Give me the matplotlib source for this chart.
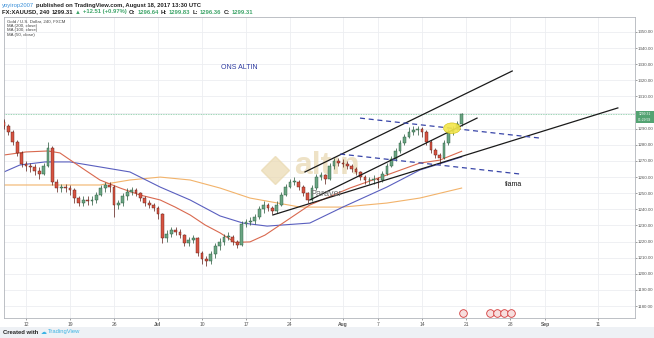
import numpy as np
import matplotlib.pyplot as plt
from matplotlib.patches import Ellipse, Rectangle
import matplotlib.transforms as mtransforms

plt.rcParams["font.family"] = ["Liberation Sans", "DejaVu Sans"]

W, H = 654, 338

# 12h bars, index 0 = Jun 8 (left edge)
first_open = 1294
closes = [1292, 1288, 1282, 1275, 1268, 1267, 1266, 1264, 1262, 1267,
          1278, 1257, 1253, 1254, 1253, 1252, 1247, 1244, 1246, 1245,
          1246, 1249, 1253, 1255, 1254, 1243, 1244, 1248, 1251, 1252,
          1250, 1247, 1244, 1243, 1241, 1237, 1222, 1225, 1227, 1226,
          1224, 1219, 1221, 1222, 1213, 1209, 1208, 1212, 1217, 1220,
          1223, 1223, 1220, 1218, 1231, 1232, 1233, 1235, 1240, 1243,
          1241, 1239, 1243, 1249, 1254, 1257, 1257, 1254, 1250, 1246,
          1253, 1260, 1261, 1259, 1267, 1270, 1269, 1268, 1267, 1265,
          1263, 1260, 1258, 1258, 1259, 1258, 1262, 1267, 1271, 1276,
          1281, 1285, 1288, 1289, 1290, 1288, 1282, 1277, 1274, 1272,
          1281, 1288, 1290, 1293, 1299.31]
highs = [1296, 1293, 1289, 1283, 1276, 1270, 1269, 1268, 1266, 1269,
         1282, 1279, 1259, 1256, 1256, 1255, 1253, 1248, 1248, 1248,
         1248, 1251, 1255, 1257, 1257, 1255, 1246, 1250, 1253, 1254,
         1253, 1251, 1248, 1246, 1244, 1242, 1238, 1227, 1229, 1229,
         1228, 1225, 1223, 1224, 1223, 1214, 1211, 1214, 1219, 1222,
         1225, 1226, 1224, 1221, 1233, 1234, 1235, 1237, 1242, 1245,
         1244, 1242, 1245, 1251, 1256, 1259, 1260, 1258, 1255, 1251,
         1255, 1262, 1263, 1262, 1269, 1272, 1272, 1271, 1270, 1268,
         1266, 1264, 1261, 1260, 1261, 1260, 1264, 1269, 1273, 1278,
         1283, 1287, 1291, 1292, 1292, 1291, 1289, 1283, 1278, 1275,
         1283, 1290, 1292, 1295, 1299.83]
lows = [1290, 1286, 1280, 1273, 1266, 1264, 1263, 1261, 1259, 1261,
        1266, 1255, 1251, 1251, 1251, 1249, 1244, 1242, 1242, 1243,
        1243, 1244, 1248, 1251, 1251, 1235, 1240, 1242, 1246, 1249,
        1248, 1245, 1242, 1241, 1239, 1234, 1219, 1220, 1223, 1224,
        1222, 1217, 1217, 1219, 1211, 1206, 1205, 1206, 1210, 1215,
        1218, 1221, 1218, 1216, 1217, 1229, 1230, 1231, 1234, 1238,
        1239, 1237, 1238, 1242, 1248, 1253, 1255, 1252, 1248, 1244,
        1245, 1252, 1258, 1256, 1258, 1265, 1267, 1266, 1265, 1263,
        1261, 1258, 1256, 1256, 1256, 1253, 1257, 1261, 1266, 1270,
        1275, 1280, 1284, 1286, 1286, 1285, 1280, 1275, 1272, 1268,
        1271, 1280, 1286, 1289, 1292]

# moving averages, read at sample bar positions
ma50_x = [0, 5, 10, 12.7, 15.7, 18.4, 21.8, 26.4, 30.9, 35.5, 38.9, 42.3,
          45.7, 49.1, 52.5, 55.9, 59.3, 63.4, 69.5, 78.6, 87, 94.5, 99, 104]
ma50_y = [1273.7, 1275.6, 1276.2, 1275, 1269.4, 1264.4, 1258.2, 1253.2,
          1248.9, 1245.8, 1241.4, 1236.5, 1230.3, 1225.4, 1219.5, 1219.8,
          1224, 1231.5, 1242.7, 1253.2, 1261.3, 1268.7, 1270.5, 1276]
ma100_x = [0, 3.6, 9.3, 15, 21.8, 28.6, 35.5, 42.3, 49.1, 54.3, 59.8,
           69.5, 77, 87, 94.5, 104]
ma100_y = [1263.2, 1267.5, 1269.4, 1269.4, 1266.3, 1263.2, 1253.8, 1245.8,
           1235.9, 1231.5, 1229.6, 1231.5, 1241.4, 1253.8, 1264.4, 1272.5]
ma200_x = [0, 21.8, 28.6, 35.5, 42.3, 49.1, 55.9, 67.3, 77, 87, 94.5, 104]
ma200_y = [1255.1, 1255.1, 1258.2, 1260, 1258.2, 1253.2, 1247, 1241.4,
           1241.4, 1243.9, 1247, 1253.2]

# drawn trend lines: (x0, y0, x1, y1)
solid_lines = [(68.4, 1263.2, 115.5, 1325.8),
               (69.5, 1245.8, 107.5, 1296.6),
               (61.1, 1236.5, 139.5, 1302.9)]
dashed_lines = [(80.9, 1296.6, 121.8, 1284.2),
                (76.4, 1274.3, 117.3, 1261.9)]

xtick_pos = [5, 15, 25, 35, 45, 55, 65, 77, 85, 95, 105, 115, 123, 135]
xtick_lab = ["12", "19", "26", "Jul", "10", "17", "24", "Aug", "7", "14",
             "21", "28", "Sep", "11"]
ytick_vals = list(range(1180, 1351, 10))
last_price = 1299.31
event_pos = [104.3, 110.5, 112.1, 113.7, 115.3]

UP, DOWN = "#6ba583", "#d75442"
UP_E, DOWN_E = "#225437", "#5b1a13"

fig = plt.figure(figsize=(W / 100, H / 100), dpi=100, facecolor="white")
ax = fig.add_axes([4 / W, 20 / H, 631 / W, 301 / H])
ax.set_xlim(0, 143.4)
ax.set_ylim(1172.6, 1359.3)

# grid
for xp in xtick_pos:
    ax.axvline(xp, color="#eceef1", lw=0.6, zorder=0)
for yv in ytick_vals:
    ax.axhline(yv, color="#eceef1", lw=0.6, zorder=0)

# candles
opens = [first_open] + closes[:-1]
for i, (o, h, l, c) in enumerate(zip(opens, highs, lows, closes)):
    up = c >= o
    fc = UP if up else DOWN
    ec = UP_E if up else DOWN_E
    ax.vlines(i, l, h, color=ec, lw=0.5, zorder=3)
    ax.bar(i, max(abs(c - o), 0.4), bottom=min(o, c), width=0.6,
           color=fc, edgecolor=ec, lw=0.3, zorder=4)

# moving averages
ax.plot(ma200_x, ma200_y, color="#f2b36b", lw=0.8, zorder=2)
ax.plot(ma100_x, ma100_y, color="#5a5fbf", lw=0.8, zorder=2)
ax.plot(ma50_x, ma50_y, color="#d9694f", lw=0.8, zorder=2)

# trend lines
for x0, y0, x1, y1 in solid_lines:
    ax.plot([x0, x1], [y0, y1], color="#1a1a1a", lw=0.9, zorder=5)
for x0, y0, x1, y1 in dashed_lines:
    ax.plot([x0, x1], [y0, y1], color="#3845a8", lw=0.9, ls=(0, (4, 3)), zorder=5)

# current price line
ax.axhline(last_price, color="#79c49a", lw=0.6, ls=(0, (1, 1)), zorder=1)

# highlight
ax.add_patch(Ellipse((101.8, 1290.3), 3.8, 6.6, facecolor="#f3e64a",
                     edgecolor="#c9b800", lw=0.4, alpha=0.9, zorder=6))

# watermark
ax.plot(61.6, 1264.4, marker="D", ms=14, color="#ead9b0", alpha=0.7, zorder=1)
ax.text(66, 1267, "altın", fontsize=23, fontweight="bold", color="#e3cfa0",
        alpha=0.6, ha="left", va="center", zorder=1)
ax.text(69.5, 1250, "Paraver", fontsize=6.5, color="#6f6f6f", ha="left",
        va="center", zorder=6)

# annotations
ax.text(53.4, 1327.7, "ONS ALTIN", fontsize=5, color="#2d3aa0", ha="center", va="center")
ax.text(115.7, 1255.7, "flama", fontsize=5, color="#111111", ha="center", va="center")

# event icons at the bottom
trans = mtransforms.blended_transform_factory(ax.transData, ax.transAxes)
for ep in event_pos:
    ax.plot(ep, 0.018, marker="o", ms=5.5, mfc="#f7dede", mec="#d33a3a",
            mew=0.6, transform=trans, clip_on=False, zorder=7)

# legend block
leg = ["Gold / U.S. Dollar, 240, FXCM", "MA (200, close)", "MA (100, close)", "MA (50, close)"]
for k, t in enumerate(leg):
    ax.text(0.005, 1 - (5 + 4.2 * k) / 301, t, transform=ax.transAxes,
            fontsize=3.2, color="#444444", ha="left", va="center")

# axes styling
for s in ax.spines.values():
    s.set_color("#b2b5bb")
    s.set_linewidth(0.6)
ax.yaxis.tick_right()
ax.set_yticks(ytick_vals)
# the 1300 label sits under the last-price tag
ax.set_yticklabels(["" if v == 1300 else f"{v:.2f}" for v in ytick_vals])
ax.set_xticks(xtick_pos)
ax.set_xticklabels(xtick_lab)
for lbl in ax.get_xticklabels():
    if lbl.get_text() in ("Jul", "Aug", "Sep"):
        lbl.set_fontweight("bold")
ax.tick_params(axis="x", labelsize=3.6, colors="#555555", length=1.5,
               width=0.4, pad=1.5)
ax.tick_params(axis="y", labelsize=3.2, colors="#555555", length=1.2,
               width=0.4, pad=0.8)

# last price tag on the price scale
ytr = mtransforms.blended_transform_factory(fig.transFigure, ax.transData)
fig.patches.append(Rectangle((636 / W, 1293.4), 18 / W, 7.8, transform=ytr,
                             facecolor="#53a372", edgecolor="none", zorder=10))
fig.text(645 / W, 1299.3, "1299.31", transform=ytr, fontsize=2.4, color="white",
         ha="center", va="center", zorder=11)
fig.text(645 / W, 1295.4, "01:29:59", transform=ytr, fontsize=2.4, color="white",
         ha="center", va="center", zorder=11)

# header: chained segments
renderer = fig.canvas.get_renderer()

def chain(x, y, parts, size=4.2):
    for s, col, bold in parts:
        t = fig.text(x / W, 1 - y / H, s, va="center", ha="left", fontsize=size,
                     color=col, fontweight="bold" if bold else "normal")
        x = t.get_window_extent(renderer).x1 + 2

green = "#3fa56a"
dark = "#222222"
chain(2, 5, [("yoyirop2007", "#3a8fd8", False),
             ("published on TradingView.com, August 18, 2017 13:30 UTC", dark, True)])
chain(2, 12, [("FX:XAUUSD, 240", dark, True), ("1299.31", dark, True),
              ("▲", green, False), ("+12.51 (+0.97%)", green, True),
              ("O:", dark, True), ("1296.64", green, True),
              ("H:", dark, True), ("1299.83", green, True),
              ("L:", dark, True), ("1296.36", green, True),
              ("C:", dark, True), ("1299.31", green, True)])

# footer band
fig.patches.append(Rectangle((0, 0), 1, 11 / H, transform=fig.transFigure,
                             facecolor="#eef1f5", edgecolor="none", zorder=0))
chain(3, 332, [("Created with", dark, True), ("☁", "#3bb3e4", False),
               ("TradingView", "#3bb3e4", False)], size=4.2)

fig.savefig("out.png", dpi=100)
